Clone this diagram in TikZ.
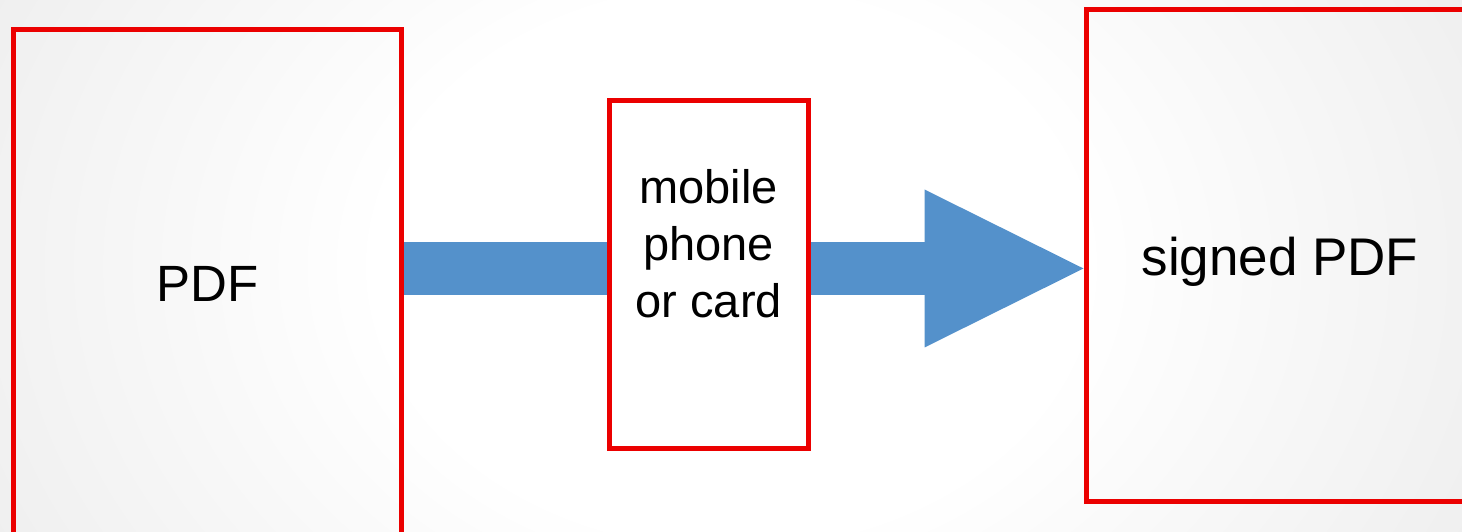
\documentclass[tikz,border=0pt]{standalone}
\usepackage{fontspec}
\setmainfont{Liberation Sans}
\usetikzlibrary{arrows.meta,positioning,calc,backgrounds}
\definecolor{boxred}{RGB}{235,0,0}
\definecolor{flowblue}{RGB}{84,145,203}
% soft paper glow behind everything
\pgfdeclareradialshading{paperglow}{\pgfpoint{0bp}{0bp}}{%
  color(0bp)=(white); color(12bp)=(white); color(40bp)=(black!11); color(55bp)=(black!14)}
\tikzset{
  % boxes
  docbox/.style   = {rectangle, draw=boxred, line width=5pt, inner sep=0pt},
  devbox/.style   = {docbox, fill=white},
  % texts
  biglab/.style   = {font=\fontsize{51}{61}\selectfont, inner sep=0pt},
  phonelab/.style = {font=\fontsize{47}{57}\selectfont, inner sep=0pt, align=center},
  % thick block arrow
  flow/.style     = {draw=flowblue, line width=53pt,
                     -{Triangle[length=159pt, width=158pt, line width=0pt]}},
}
\begin{document}
\begin{tikzpicture}[x=1pt, y=1pt]
  \useasboundingbox (0,0) rectangle (1462,532);
  \begin{scope}[on background layer]
    \clip (0,0) rectangle (1462,532);
    \shade[shading=paperglow] (0,-300) rectangle (1462,832);
  \end{scope}
  \clip (0,0) rectangle (1462,532);

  % documents
  \node[docbox, biglab, minimum width=388.5pt, minimum height=508.5pt] (pdf) at (207.25,248.25) {PDF};
  \node[docbox, biglab, font=\fontsize{53}{63}\selectfont, text depth=0pt,
        minimum width=388pt, minimum height=492pt] (signed) at (1280,276) {signed PDF};

  % flow from pdf to signed pdf
  \coordinate (axis) at (0,263.5);
  \begin{scope}[on background layer]
    \draw[flow] (pdf.east |- axis) -- (signed.west |- axis);
  \end{scope}

  % signing device
  \node[devbox, minimum width=199.5pt, minimum height=348pt] (phone) at (708.75,257.6) {};
  \node[phonelab, below=71pt of phone.north] (phonetxt) {mobile\\phone\\or card};
\end{tikzpicture}
\end{document}
